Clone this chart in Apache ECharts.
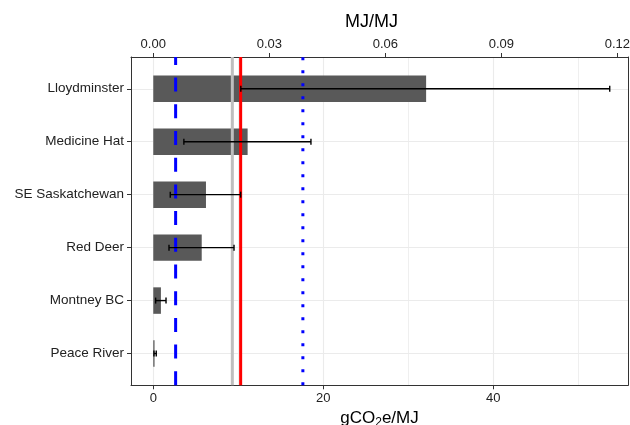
<!DOCTYPE html>
<html>
<head>
<meta charset="utf-8">
<script src="https://cdn.jsdelivr.net/npm/echarts@6/dist/echarts.min.js"></script>
<style>html,body{margin:0;padding:0;background:#fff}#c{width:630px;height:425px}</style>
</head>
<body>
<div id="c"></div>
<script>
// ---- data ----
const categories = ['Lloydminster', 'Medicine Hat', 'SE Saskatchewan', 'Red Deer', 'Montney BC', 'Peace River'];
const barValues = [32.1, 11.1, 6.2, 5.7, 0.9, 0.15];
const errLow = [10.3, 3.6, 2.0, 1.85, 0.28, 0.08];
const errHigh = [53.7, 18.55, 10.28, 9.5, 1.5, 0.35];
const refBlueDashed = [2.63];
const refGray = [9.3];
const refRed = [10.28];
const refBlueDotted = [17.6];
const bottomTicks = [0, 20, 40];
const gridMinor = [10, 30, 50];
const topTicks = [0.00, 0.03, 0.06, 0.09, 0.12];

const X_MIN = -2.62, X_MAX = 55.85;
const MJ_PER_G = 1 / 455;            // top axis scale factor
const Y_MIN = 0.4, Y_MAX = 6.6;
const FONT = 'Liberation Sans, Arial, Helvetica, sans-serif';

const chart = echarts.init(document.getElementById('c'));

function refSeries(vals, color, width, type) {
  return {
    type: 'custom', xAxisIndex: 0, yAxisIndex: 0, z: 5,
    data: vals.map(v => [v]),
    renderItem: function (params, api) {
      const p1 = api.coord([api.value(0), Y_MAX]);
      const p2 = api.coord([api.value(0), Y_MIN]);
      return { type: 'line', shape: { x1: p1[0], y1: p1[1], x2: p2[0], y2: p2[1] },
        style: { stroke: color, lineWidth: width, lineDash: type, lineCap: 'butt' } };
    }
  };
}

const option = {
  animation: false,
  grid: { left: 131, right: 2, top: 57, bottom: 39.7, show: false, containLabel: false, outerBoundsMode: 'none' },
  xAxis: [
    {
      type: 'value', position: 'bottom', min: X_MIN, max: X_MAX,
      name: '{a|gCO}{s|2}{a|e/MJ}', nameLocation: 'middle', nameGap: 22,
      nameTextStyle: { rich: {
        a: { fontFamily: FONT, fontSize: 17, color: '#000' },
        s: { fontFamily: FONT, fontSize: 12, color: '#000', padding: [8, 0, 0, 0] }
      } },
      axisLine: { show: true, onZero: false, lineStyle: { color: '#333', width: 1 } },
      axisTick: { show: true, customValues: bottomTicks, length: 4, lineStyle: { color: '#333' } },
      axisLabel: { customValues: bottomTicks, fontFamily: FONT, fontSize: 13, color: '#222', margin: 7 },
      splitLine: { show: true, lineStyle: { color: '#EBEBEB', width: 1.1 } }
    },
    {
      type: 'value', position: 'top', min: X_MIN * MJ_PER_G, max: X_MAX * MJ_PER_G,
      name: 'MJ/MJ', nameLocation: 'middle', nameGap: 26,
      nameTextStyle: { fontFamily: FONT, fontSize: 18, color: '#000', padding: [0, 16, 0, 0] },
      axisLine: { show: true, onZero: false, lineStyle: { color: '#333', width: 1 } },
      axisTick: { show: true, customValues: topTicks, length: 4, lineStyle: { color: '#333' } },
      axisLabel: { customValues: topTicks, fontFamily: FONT, fontSize: 13, color: '#222', margin: 6,
        formatter: v => v.toFixed(2) },
      splitLine: { show: false }
    },
    {
      type: 'value', position: 'bottom', min: X_MIN, max: X_MAX, show: true,
      axisLine: { show: false }, axisLabel: { show: false },
      axisTick: { show: false, customValues: gridMinor },
      splitLine: { show: true, lineStyle: { color: '#EBEBEB', width: 0.8 } }
    }
  ],
  yAxis: [
    {
      type: 'value', min: Y_MIN, max: Y_MAX, inverse: true,
      axisLine: { show: true, onZero: false, lineStyle: { color: '#333', width: 1 } },
      axisTick: { show: true, customValues: [1, 2, 3, 4, 5, 6], length: 4, lineStyle: { color: '#333' } },
      axisLabel: { customValues: [1, 2, 3, 4, 5, 6], fontFamily: FONT, fontSize: 13.5, color: '#222', margin: 7,
        formatter: v => categories[Math.round(v) - 1] },
      splitLine: { show: true, lineStyle: { color: '#EBEBEB', width: 1.1 } }
    },
    {
      type: 'value', min: Y_MIN, max: Y_MAX, inverse: true, position: 'right',
      axisLine: { show: true, onZero: false, lineStyle: { color: '#333', width: 1 } },
      axisTick: { show: false }, axisLabel: { show: false }, splitLine: { show: false }
    }
  ],
  series: [
    {
      type: 'custom', xAxisIndex: 0, yAxisIndex: 0, z: 3,
      data: barValues.map((v, i) => [v, i + 1]),
      renderItem: function (params, api) {
        const s = api.coord([0, api.value(1)]);
        const e = api.coord([api.value(0), api.value(1)]);
        const h = api.size([0, 0.5])[1];
        return { type: 'rect', shape: { x: s[0], y: s[1] - h / 2, width: e[0] - s[0], height: h },
          style: { fill: '#595959' } };
      }
    },
    refSeries(refGray, '#BEBEBE', 3, null),
    refSeries(refRed, '#FF0000', 3, null),
    refSeries(refBlueDashed, '#0000FF', 3, [14, 12.7]),
    refSeries(refBlueDotted, '#0000FF', 3, [3, 10]),
    {
      type: 'custom', xAxisIndex: 0, yAxisIndex: 0, z: 6,
      data: errLow.map((lo, i) => [i + 1, lo, errHigh[i]]),
      renderItem: function (params, api) {
        const a = api.coord([api.value(1), api.value(0)]);
        const b = api.coord([api.value(2), api.value(0)]);
        const c = 3;
        const st = { stroke: '#000', lineWidth: 1.4 };
        return { type: 'group', children: [
          { type: 'line', shape: { x1: a[0], y1: a[1], x2: b[0], y2: b[1] }, style: st },
          { type: 'line', shape: { x1: a[0], y1: a[1] - c, x2: a[0], y2: a[1] + c }, style: st },
          { type: 'line', shape: { x1: b[0], y1: b[1] - c, x2: b[0], y2: b[1] + c }, style: st }
        ] };
      }
    }
  ]
};
chart.setOption(option);
</script>
</body>
</html>
